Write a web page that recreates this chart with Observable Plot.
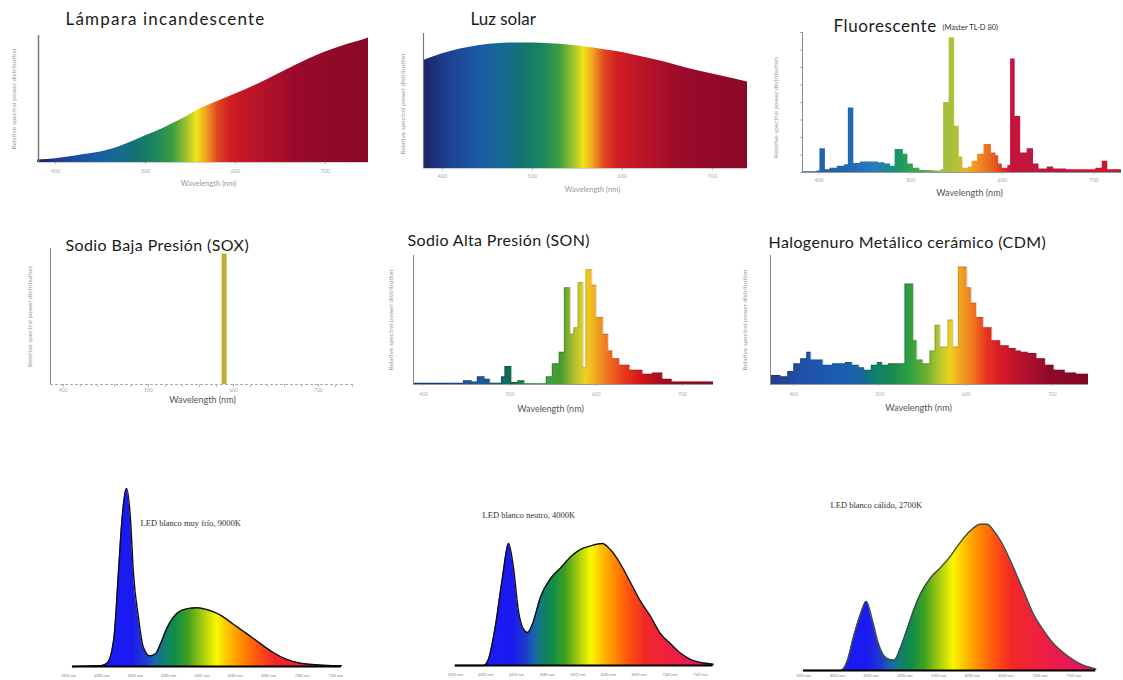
<!DOCTYPE html>
<html><head><meta charset="utf-8">
<script src="https://cdn.jsdelivr.net/npm/d3@7"></script>
<script src="https://cdn.jsdelivr.net/npm/@observablehq/plot@0.6"></script>
<style>
body{margin:0;background:#fff}
#c{position:relative;width:1123px;height:680px;overflow:hidden;background:#fff}
</style>
</head><body><div id="c"></div>
<script>
// ---------- data ----------
const xLabel = "Wavelength (nm)";
const yLabel = "Relative spectral power distribution";
const topTicks = [400, 500, 600, 700];
const ledTicks = [350, 400, 450, 500, 550, 600, 650, 700, 750];

const titles = ["Lámpara incandescente", "Luz solar", "Fluorescente", "Sodio Baja Presión (SOX)",
  "Sodio Alta Presión (SON)", "Halogenuro Metálico cerámico (CDM)"];
const fluoSubtitle = "(Master TL-D 80)";
const ledLabels = ["LED blanco muy frío, 9000K", "LED blanco neutro, 4000K", "LED blanco cálido, 2700K"];

const incNm  = [380,400,420,440,460,480,500,520,540,560,580,600,620,640,660,680,700,720,740,748];
const incVal = [2,3,5,7,10,15,21,27,34,42,48,54,60,67,74,81,87,92,96,98];

const sunNm  = [379,400,420,440,460,480,500,520,540,560,580,600,620,640,660,680,700,720,739];
const sunVal = [80,85,88.5,91,92.5,93,93,92.5,91.5,90,88,86,83,80,76.5,73,70,67,64];

const fluNm  = [382,398,401,407,412,420,428,432,438,445,455,465,472,478,483,492,497,503,510,525,
  533,536,542,548,553,557,563,567,573,580,588,593,596,600,606,609,614,620,627,634,640,649,656,670,690,702,709,715,730];
const fluVal = [0.5,1,17,2,3,4.5,5.5,46,6.5,7.5,7.5,7,6,4.5,16.5,13,6,3,1.5,1,
  2,50,96,33,11,3,4,8,13,20,14,12,6,3,5,81,40,14,17,6,2.5,4,2.5,2,2,3,8,2,0.5];

const soxNm  = [589];
const soxVal = [96];

const sonNm  = [388,446,456,462,471,477,490,494,502,509,517,542,549,557,563,570,574,579,585,588,
  595,600,608,614,619,627,639,654,665,677,688,736];
const sonVal = [1,3,2,6,4,1,6,14,1.5,3,0.5,6,16,25,75,39,44,79,13,89,77,52,39,26,20,15,11,8,9,4,2,2];

const cdmNm  = [373,385,393,400,408,415,420,428,434,445,452,460,468,476,482,490,497,503,510,518,
  529,539,543,550,558,564,570,579,585,591,601,606,612,620,630,640,650,658,664,672,682,692,702,715,728,742];
const cdmVal = [7,6,10,16,20,25,19,19,15,16,16,17,15,13,11,15,17,15,16,16,
  78,34,19,16,26,46,29,50,29,91,75,63,52,44,34,30,28,26,25,24,20,15,11,9,8,8];

const led9Nm  = [356,398,408,418,425,430,437,443,447,455,462,472,480,487,498,513,528,543,557,577,596,617,637,656,677,696,721,746,759];
const led9Val = [0,0.5,2,16,54,82,100,82,54,27,11,6,7,12,22,30,32.5,33,32,29,24,18.5,13,8,4,2,1,0.5,0.5];

const led4Nm  = [350,396,404,415,427,437,445,453,461,468,476,489,505,522,538,554,571,590,603,620,636,652,669,685,701,718,734,755,771];
const led4Val = [0,0,5,31,72,100,80,45,30,27,34,56,71,80,89,95,98,100,95,83,68,53,40,26,18,10,5,2,1];

const led27Nm  = [350,405,415,424,434,443,452,461,474,484,494,504,513,523,538,553,568,582,597,612,622,632,647,661,676,691,706,721,741,760,783];
const led27Val = [0,0,7,23,38,47,34,18,8,7,16,29,41,52,63,70,78,87,95,99.5,99.5,95,84,70,54,38,27,18,10,4.5,1];

// ---------- colour ramps (style) ----------
const topStops = [[380,"#1c2468"],[405,"#1e3f90"],[440,"#1a5aa6"],[470,"#166b90"],[490,"#137470"],[510,"#1a8460"],
  [530,"#3a9c40"],[545,"#98c030"],[557,"#f0e418"],[567,"#f0a820"],[580,"#e04820"],[595,"#d01c22"],[625,"#b81428"],[665,"#9c0a2a"],[750,"#880826"]];
const fluStops = [[380,"#2a5aa8"],[430,"#1e68b0"],[460,"#2a7ac0"],[478,"#1a8a8a"],[488,"#1a9a60"],[510,"#40a848"],[535,"#a0c040"],
  [550,"#b0c038"],[562,"#f0b030"],[575,"#f08a20"],[590,"#e86020"],[602,"#d83030"],[610,"#c8143c"],[660,"#b81a40"],[700,"#c81a30"],[730,"#c01830"]];
const sonStops = [[380,"#283880"],[440,"#2050a0"],[470,"#1a5a9a"],[490,"#106a6a"],[500,"#106a50"],[520,"#208a40"],[545,"#40a040"],
  [560,"#4a9a30"],[575,"#b0c030"],[588,"#f0d020"],[598,"#f0b020"],[610,"#f08020"],[630,"#e84020"],[650,"#d81818"],[680,"#a00c20"],[740,"#801020"]];
const cdmStops = [[370,"#283888"],[410,"#2050a8"],[460,"#1a60b0"],[480,"#1868a0"],[495,"#10806a"],[515,"#1a8a50"],[535,"#30a040"],
  [555,"#70b030"],[570,"#b8c830"],[582,"#f0d020"],[595,"#f0a020"],[610,"#f07020"],[625,"#e83020"],[645,"#d01828"],[670,"#b01030"],[700,"#900828"],[745,"#800824"]];
const ledStops = [[350,"#1a1aff"],[445,"#1a1af0"],[465,"#2038d0"],[480,"#1868a8"],[495,"#10806a"],[510,"#108c48"],[530,"#40a020"],
  [550,"#a0c810"],[572,"#f8f800"],[590,"#ffc000"],[610,"#ff8c00"],[635,"#ff5010"],[660,"#f02828"],[700,"#f02040"],[740,"#e81858"],[790,"#e01060"]];

// ---------- helpers ----------
const rows = (nm, v) => nm.map((x, i) => ({nm: x, v: v[i]}));
const FONT = "Lato, 'Open Sans', sans-serif";
const spacing = new Map();

function gradient(id, stops) {
  return (index, scales) => {
    const ns = "http://www.w3.org/2000/svg";
    const defs = document.createElementNS(ns, "defs");
    const lg = document.createElementNS(ns, "linearGradient");
    lg.setAttribute("id", id);
    lg.setAttribute("gradientUnits", "userSpaceOnUse");
    const a = stops[0][0], b = stops[stops.length - 1][0];
    lg.setAttribute("x1", scales.x(a)); lg.setAttribute("x2", scales.x(b));
    lg.setAttribute("y1", 0); lg.setAttribute("y2", 0);
    for (const [nm, c] of stops) {
      const s = document.createElementNS(ns, "stop");
      s.setAttribute("offset", (nm - a) / (b - a));
      s.setAttribute("stop-color", c);
      lg.appendChild(s);
    }
    defs.appendChild(lg);
    return defs;
  };
}

const box = document.getElementById("c");
function draw(o) {
  const svg = Plot.plot({
    width: o.w, height: o.h,
    marginLeft: o.ml, marginRight: o.mr, marginTop: o.mt, marginBottom: o.mb,
    x: {domain: o.xd, axis: null, label: null},
    y: {domain: [0, 100], axis: null, label: null},
    style: {position: "absolute", left: o.left + "px", top: o.top + "px", overflow: "visible",
      background: "none", fontFamily: FONT},
    marks: o.marks
  });
  svg.querySelectorAll("text").forEach(t => {
    if (spacing.has(t.textContent)) t.style.letterSpacing = spacing.get(t.textContent) + "px";
  });
  box.appendChild(svg);
}

const title = (t, dx, dy, size = 16, ls = 0) => {
  spacing.set(t, ls);
  return Plot.text([t], {frameAnchor: "top-left", dx, dy, textAnchor: "start",
    lineAnchor: "middle", fontSize: size, fill: "#1a1a1a"});
};
const xText = (dx, dy, size, fill) => Plot.text([xLabel], {frameAnchor: "bottom", dx, dy, textAnchor: "middle", lineAnchor: "middle", fontSize: size, fill});
const yText = (dx, dy, size) => Plot.text([yLabel], {frameAnchor: "left", dx, dy, rotate: -90, textAnchor: "middle", lineAnchor: "middle", fontSize: size, fill: "#999"});
const xAxis = (pad, size = 5.5) => Plot.axisX({ticks: topTicks, tickSize: 2, tickPadding: pad, fontSize: size, color: "#aaa", label: null});

// ---------- panel 1 : incandescent ----------
draw({left: 0, top: 0, w: 380, h: 200, ml: 38, mr: 12, mt: 35, mb: 38, xd: [381, 748], marks: [
  gradient("gInc", topStops),
  Plot.areaY(rows(incNm, incVal), {x: "nm", y: "v", fill: "url(#gInc)", curve: "monotone-x"}),
  Plot.ruleY([0], {stroke: "#ccc"}),
  Plot.ruleX([381], {stroke: "#777", strokeWidth: 1.5}),
  xAxis(5), xText(5, 21, 7.5, "#999"), yText(-25, 0, 6.5),
  title(titles[0], 27, -16, 17, 1.2)
]});

// ---------- panel 2 : sunlight ----------
draw({left: 380, top: 0, w: 380, h: 200, ml: 43, mr: 13, mt: 33, mb: 32, xd: [379, 739], marks: [
  gradient("gSun", topStops),
  Plot.areaY(rows(sunNm, sunVal), {x: "nm", y: "v", fill: "url(#gSun)", curve: "monotone-x"}),
  Plot.ruleY([0], {stroke: "#ccc"}),
  Plot.ruleX([379], {stroke: "#777", strokeWidth: 1.2}),
  xAxis(4), xText(7, 21, 7.5, "#999"), yText(-21, 3, 6.5),
  title(titles[1], 47, -14, 17, 0)
]});

// ---------- panel 3 : fluorescent ----------
draw({left: 760, top: 0, w: 363, h: 200, ml: 42, mr: 2, mt: 32, mb: 28, xd: [382, 730], marks: [
  gradient("gFlu", fluStops),
  Plot.areaY(rows(fluNm, fluVal), {x: "nm", y: "v", fill: "url(#gFlu)", curve: "step-after"}),
  Plot.ruleY([0], {stroke: "#999"}),
  Plot.ruleX([382], {stroke: "#888", strokeWidth: 1}),
  Plot.axisY({ticks: d3.range(0, 101, 12.5), tickSize: 2, tickFormat: () => "", color: "#aaa", label: null}),
  xAxis(4), xText(7.5, 21, 9, "#555"), yText(-27, 5, 6.5),
  title(titles[2], 31, -6, 17, 0.6),
  Plot.text([fluoSubtitle], {frameAnchor: "top-left", dx: 140, dy: -5, textAnchor: "start", lineAnchor: "middle", fontSize: 7.5, fill: "#333"})
]});

// ---------- panel 4 : low-pressure sodium ----------
draw({left: 0, top: 220, w: 380, h: 195, ml: 50, mr: 27, mt: 28, mb: 31, xd: [385, 741], marks: [
  Plot.ruleY([0], {stroke: "#aaa", strokeDasharray: "3,2"}),
  Plot.axisX({ticks: d3.range(400, 741, 20), tickSize: 3, tickFormat: () => "", color: "#bbb", label: null}),
  Plot.ruleX(soxNm, {x: d => d, y1: 0, y2: (d, i) => soxVal[i], stroke: "#c2ad2c", strokeWidth: 5}),
  Plot.ruleX([385], {stroke: "#888", strokeWidth: 1}),
  xAxis(2, 5), xText(0.5, 16, 9, "#555"), yText(-21, 0, 6.5),
  title(titles[3], 15, -3, 16, 0.4)
]});

// ---------- panel 5 : high-pressure sodium ----------
draw({left: 380, top: 220, w: 380, h: 195, ml: 33, mr: 47, mt: 35, mb: 31, xd: [388, 736], marks: [
  gradient("gSon", sonStops),
  Plot.areaY(rows(sonNm, sonVal), {x: "nm", y: "v", fill: "url(#gSon)", curve: "step-after"}),
  Plot.lineY(rows(sonNm, sonVal), {x: "nm", y: "v", stroke: "#000", strokeOpacity: 0.2, strokeWidth: 0.8, curve: "step-after"}),
  Plot.ruleY([0], {stroke: "#999"}),
  Plot.ruleX([388], {stroke: "#888", strokeWidth: 1}),
  xAxis(6, 5), xText(-13, 25, 9, "#555"), yText(-23, 0, 6.5),
  title(titles[4], -6, -15, 16, 0.35)
]});

// ---------- panel 6 : ceramic metal halide ----------
draw({left: 740, top: 220, w: 383, h: 195, ml: 30, mr: 35, mt: 35, mb: 31, xd: [373, 742], marks: [
  gradient("gCdm", cdmStops),
  Plot.areaY(rows(cdmNm, cdmVal), {x: "nm", y: "v", fill: "url(#gCdm)", curve: "step-after"}),
  Plot.lineY(rows(cdmNm, cdmVal), {x: "nm", y: "v", stroke: "#000", strokeOpacity: 0.2, strokeWidth: 0.8, curve: "step-after"}),
  Plot.ruleY([0], {stroke: "#999"}),
  Plot.ruleX([373], {stroke: "#888", strokeWidth: 1}),
  xAxis(6, 5), xText(-11, 24, 9, "#555"), yText(-26, 0, 6.5),
  title(titles[5], -2, -13, 16, 0.4)
]});

// ---------- LED panels ----------
function ledPanel(o, nm, val, id, label, ldx, ldy, stroke, pad) {
  const data = rows(nm, val);
  draw({...o, marks: [
    gradient(id, ledStops),
    Plot.areaY(data, {x: "nm", y: "v", fill: "url(#" + id + ")", curve: "monotone-x"}),
    Plot.lineY(data, {x: "nm", y: "v", stroke, strokeWidth: 1.4, curve: "monotone-x"}),
    Plot.ruleY([0], {x1: nm[0], x2: nm[nm.length - 1], stroke: "#000", strokeWidth: 2}),
    Plot.axisX({ticks: ledTicks, tickSize: 0, tickPadding: pad, fontSize: 4.5, color: "#888",
      tickFormat: d => d + " nm", label: null}),
    Plot.text([label], {frameAnchor: "top-left", dx: ldx, dy: ldy, textAnchor: "start", lineAnchor: "middle",
      fontSize: 8.5, fill: "#333", fontFamily: "'Liberation Serif', serif"})
  ]});
}
ledPanel({left: 0, top: 470, w: 380, h: 210, ml: 60, mr: 35, mt: 18, mb: 14, xd: [338, 765]},
  led9Nm, led9Val, "gL9", ledLabels[0], 80, 35, "#111", 7);
ledPanel({left: 420, top: 500, w: 340, h: 180, ml: 25, mr: 40, mt: 43, mb: 15, xd: [334, 783]},
  led4Nm, led4Val, "gL4", ledLabels[1], 37, -28, "#111", 7);
ledPanel({left: 780, top: 480, w: 343, h: 200, ml: 15, mr: 23, mt: 43, mb: 10, xd: [338, 790]},
  led27Nm, led27Val, "gL27", ledLabels[2], 35, -18, "#3d4f45", 3);
</script></body></html>
